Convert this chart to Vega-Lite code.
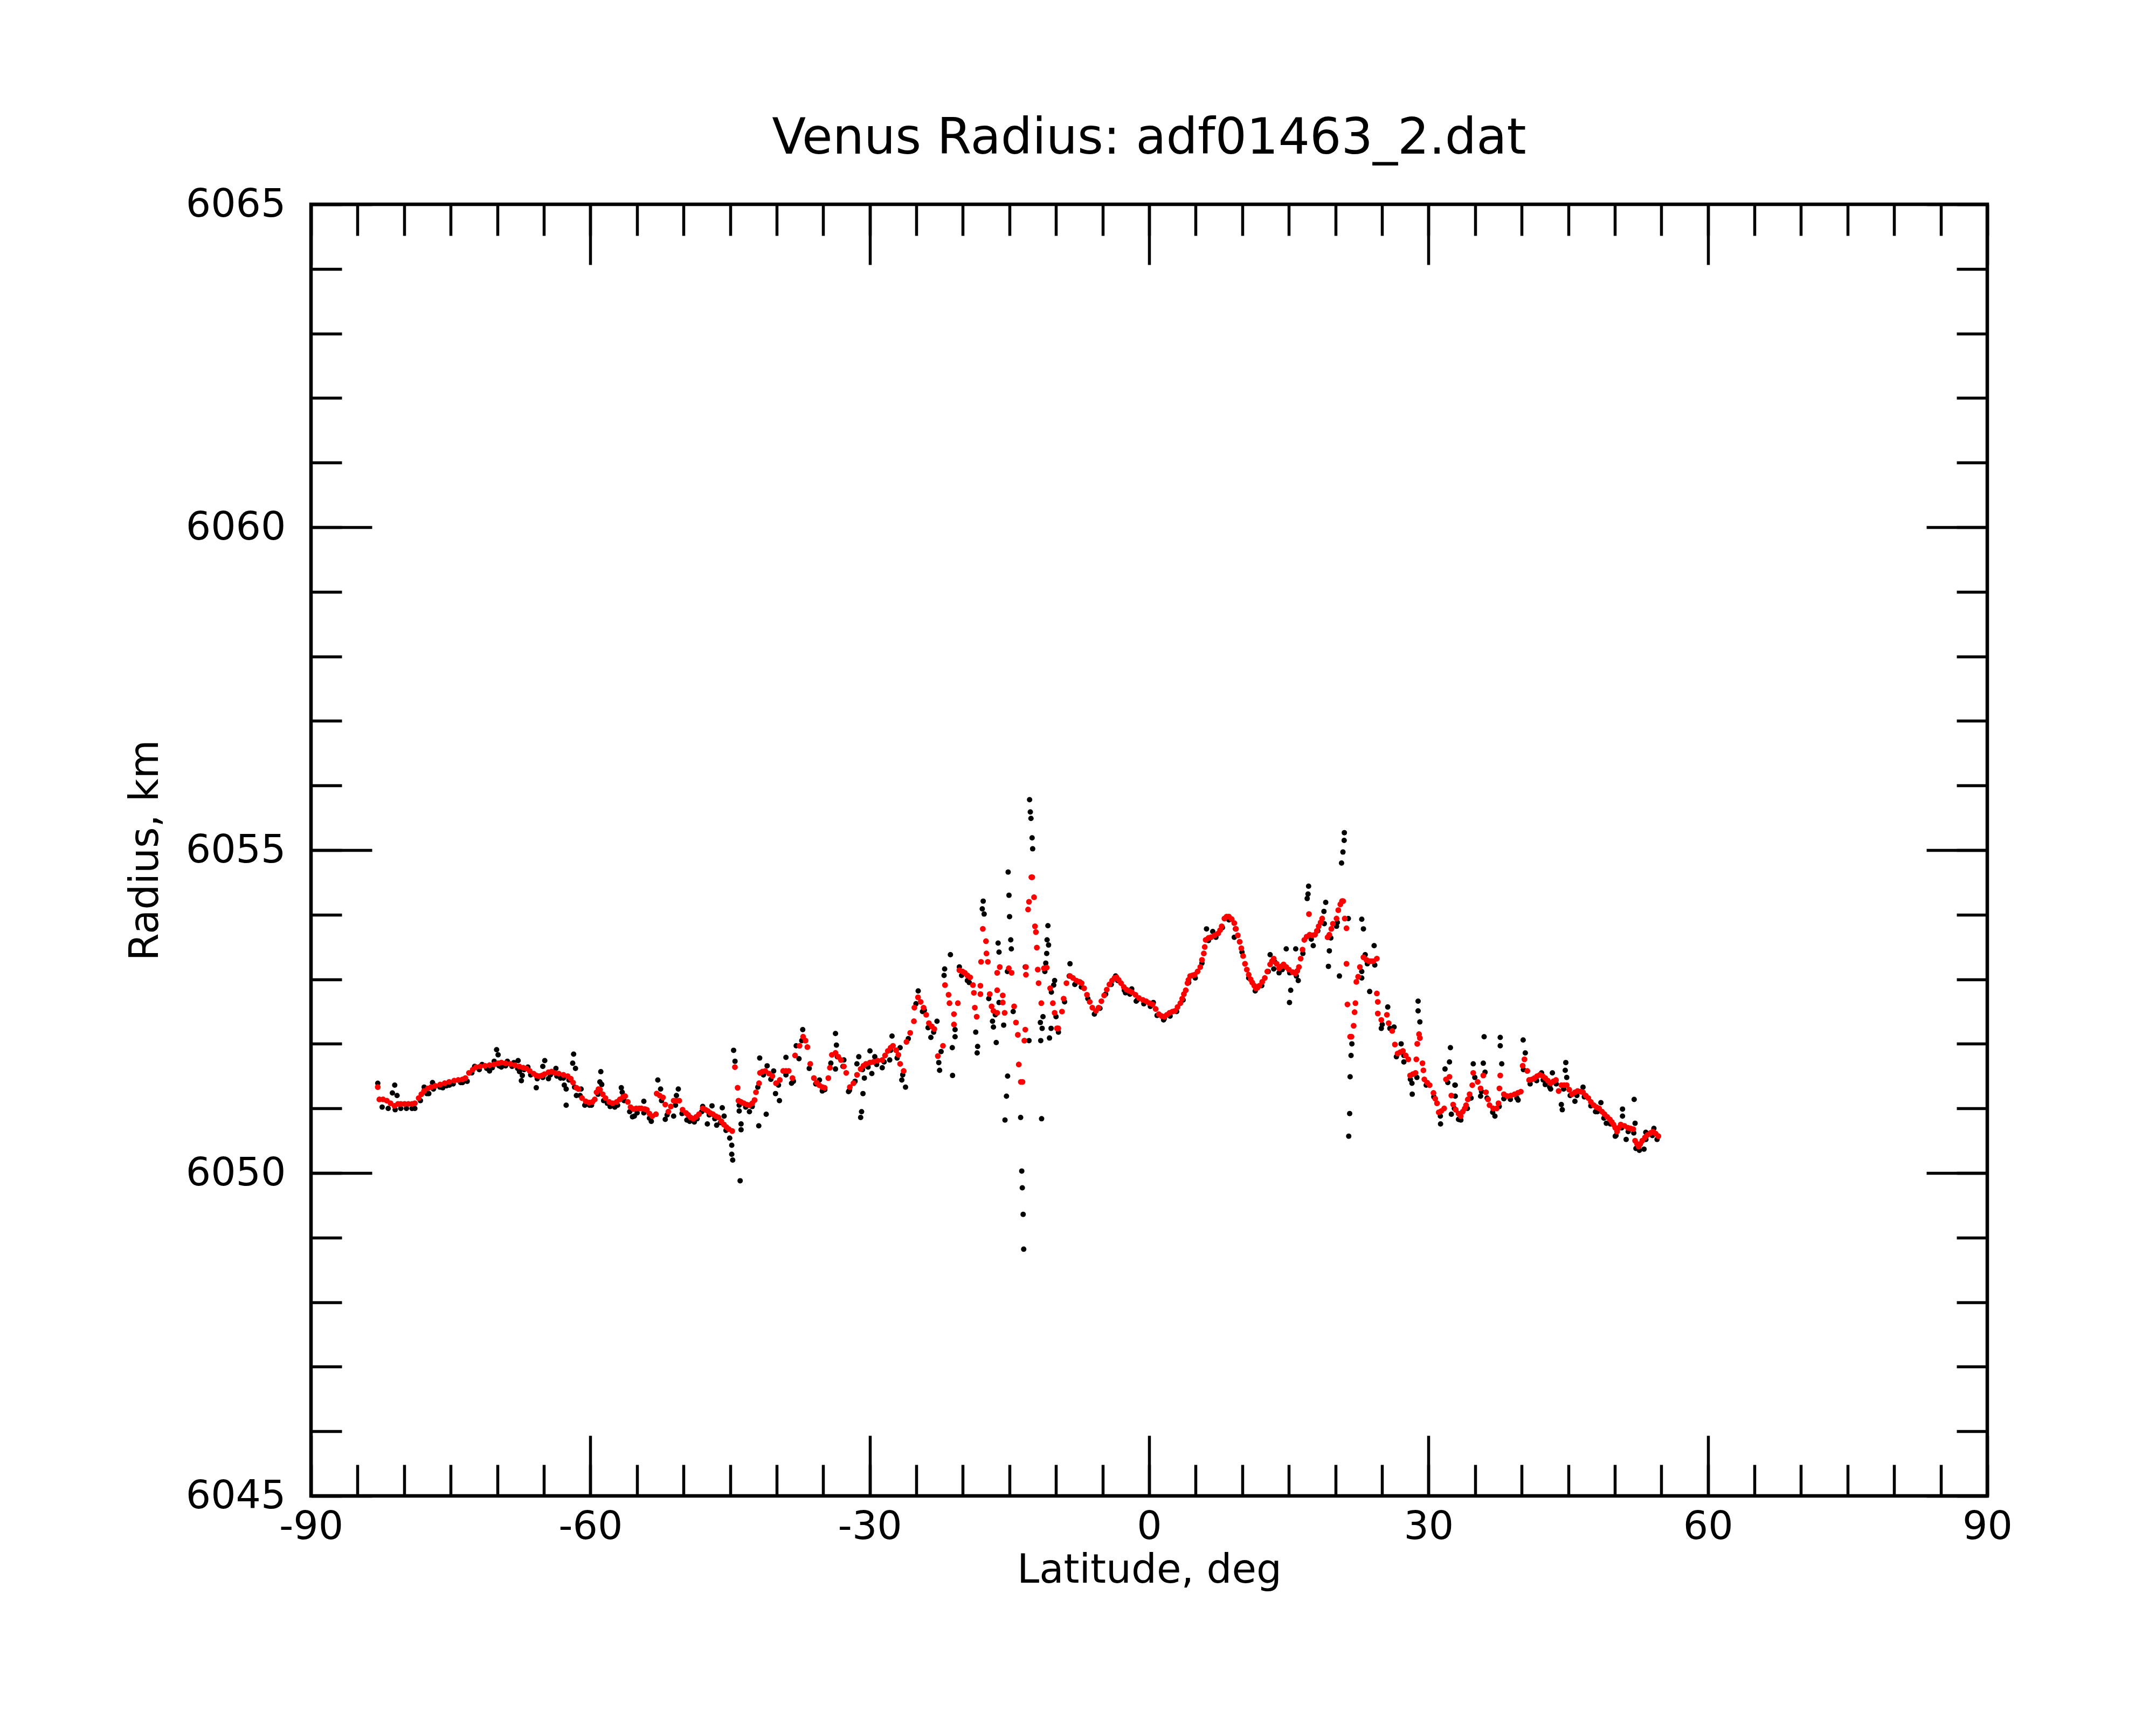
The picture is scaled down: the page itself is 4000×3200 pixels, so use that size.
{
  "$schema": "https://vega.github.io/schema/vega-lite/v6.json",
  "width": 3110,
  "height": 2396,
  "autosize": "none",
  "padding": {"left": 577, "top": 379, "right": 313, "bottom": 425},
  "background": "white",
  "config": {
    "font": "DejaVu Sans",
    "view": {"stroke": "black", "strokeWidth": 6.5},
    "axis": {
      "domain": false, "grid": false, "tickColor": "black", "tickWidth": 5.5,
      "labelColor": "black", "titleColor": "black", "labelFont": "DejaVu Sans", "titleFont": "DejaVu Sans",
      "labelFontSize": 73, "titleFontSize": 74, "titleFontWeight": "normal", "labelLimit": 500,
      "labelOverlap": false, "labelFlush": false, "labelBound": false
    }
  },
  "title": {
    "text": "Venus Radius: adf01463_2.dat", "fontSize": 92, "font": "DejaVu Sans", "fontWeight": "normal",
    "color": "black", "anchor": "middle", "frame": "group", "baseline": "alphabetic", "offset": 94, "dy": 128
  },
  "datasets": {
    "black": [
      {"lat":-82.36,"r":6051.02},{"lat":-81.71,"r":6051.0},{"lat":-80.96,"r":6050.98},{"lat":-80.36,"r":6051.0},{"lat":-79.75,"r":6051.0},{"lat":-79.15,"r":6051.0},{"lat":-78.85,"r":6051.0},{"lat":-78.25,"r":6051.12},{"lat":-77.55,"r":6051.23},{"lat":-76.85,"r":6051.3},{"lat":-76.15,"r":6051.33},{"lat":-75.45,"r":6051.35},{"lat":-74.73,"r":6051.38},{"lat":-73.93,"r":6051.4},{"lat":-73.23,"r":6051.42},{"lat":-72.73,"r":6051.55},{"lat":-71.93,"r":6051.6},{"lat":-71.13,"r":6051.62},{"lat":-70.53,"r":6051.63},{"lat":-69.81,"r":6051.66},{"lat":-69.11,"r":6051.66},{"lat":-68.41,"r":6051.65},{"lat":-67.81,"r":6051.62},{"lat":-67.11,"r":6051.6},{"lat":-66.41,"r":6051.52},{"lat":-65.71,"r":6051.46},{"lat":-65.11,"r":6051.48},{"lat":-64.3,"r":6051.52},{"lat":-63.6,"r":6051.5},{"lat":-62.9,"r":6051.47},{"lat":-62.3,"r":6051.44},{"lat":-61.7,"r":6051.33},{"lat":-61.1,"r":6051.2},{"lat":-60.6,"r":6051.05},{"lat":-59.88,"r":6051.05},{"lat":-59.18,"r":6051.22},{"lat":-58.58,"r":6051.12},{"lat":-57.88,"r":6051.03},{"lat":-57.08,"r":6051.05},{"lat":-56.38,"r":6051.12},{"lat":-55.78,"r":6050.95},{"lat":-54.98,"r":6050.93},{"lat":-54.26,"r":6050.93},{"lat":-53.66,"r":6050.85},{"lat":-52.36,"r":6051.12},{"lat":-51.76,"r":6050.9},{"lat":-50.86,"r":6051.05},{"lat":-50.16,"r":6050.92},{"lat":-49.34,"r":6050.8},{"lat":-48.54,"r":6050.84},{"lat":-48.04,"r":6050.95},{"lat":-47.24,"r":6050.9},{"lat":-46.64,"r":6050.84},{"lat":-46.04,"r":6050.78},{"lat":-45.44,"r":6050.66},{"lat":-44.02,"r":6051.05},{"lat":-43.32,"r":6051.02},{"lat":-42.62,"r":6051.03},{"lat":-42.02,"r":6051.33},{"lat":-41.42,"r":6051.52},{"lat":-40.62,"r":6051.45},{"lat":-39.8,"r":6051.36},{"lat":-39.0,"r":6051.52},{"lat":-38.2,"r":6051.42},{"lat":-37.3,"r":6052.05},{"lat":-36.5,"r":6051.62},{"lat":-35.8,"r":6051.38},{"lat":-35.1,"r":6051.27},{"lat":-34.18,"r":6051.7},{"lat":-33.48,"r":6051.8},{"lat":-32.88,"r":6051.65},{"lat":-32.18,"r":6051.28},{"lat":-31.58,"r":6051.42},{"lat":-30.78,"r":6051.6},{"lat":-30.18,"r":6051.64},{"lat":-29.26,"r":6051.68},{"lat":-28.46,"r":6051.72},{"lat":-27.76,"r":6051.9},{"lat":-27.06,"r":6051.78},{"lat":-26.46,"r":6051.52},{"lat":-25.86,"r":6052.08},{"lat":-25.04,"r":6052.62},{"lat":-24.34,"r":6052.5},{"lat":-23.74,"r":6052.25},{"lat":-23.14,"r":6052.18},{"lat":-22.34,"r":6051.88},{"lat":-20.14,"r":6053.06},{"lat":-19.32,"r":6052.95},{"lat":-17.22,"r":6052.7},{"lat":-16.52,"r":6052.45},{"lat":-15.22,"r":6053.12},{"lat":-14.6,"r":6052.5},{"lat":-11.2,"r":6053.12},{"lat":-10.5,"r":6052.8},{"lat":-10.0,"r":6052.42},{"lat":-9.08,"r":6052.65},{"lat":-8.58,"r":6053.05},{"lat":-7.98,"r":6052.92},{"lat":-7.28,"r":6052.88},{"lat":-6.58,"r":6052.7},{"lat":-5.88,"r":6052.46},{"lat":-5.28,"r":6052.55},{"lat":-4.67,"r":6052.77},{"lat":-4.07,"r":6052.92},{"lat":-3.37,"r":6052.98},{"lat":-2.67,"r":6052.83},{"lat":-2.07,"r":6052.77},{"lat":-1.27,"r":6052.68},{"lat":-0.57,"r":6052.62},{"lat":0.13,"r":6052.58},{"lat":0.85,"r":6052.44},{"lat":1.55,"r":6052.37},{"lat":2.25,"r":6052.43},{"lat":2.95,"r":6052.5},{"lat":3.65,"r":6052.68},{"lat":4.25,"r":6052.95},{"lat":4.95,"r":6053.02},{"lat":5.67,"r":6053.25},{"lat":6.37,"r":6053.6},{"lat":7.17,"r":6053.65},{"lat":7.87,"r":6053.8},{"lat":8.57,"r":6053.92},{"lat":9.27,"r":6053.78},{"lat":9.97,"r":6053.42},{"lat":10.69,"r":6053.02},{"lat":11.39,"r":6052.82},{"lat":12.09,"r":6052.9},{"lat":12.79,"r":6053.12},{"lat":13.49,"r":6053.27},{"lat":14.29,"r":6053.15},{"lat":15.09,"r":6053.1},{"lat":15.81,"r":6053.05},{"lat":16.51,"r":6053.4},{"lat":17.41,"r":6053.62},{"lat":18.11,"r":6053.75},{"lat":18.81,"r":6053.86},{"lat":19.51,"r":6053.64},{"lat":20.21,"r":6053.88},{"lat":22.83,"r":6053.12},{"lat":23.43,"r":6053.24},{"lat":24.23,"r":6053.22},{"lat":25.03,"r":6052.3},{"lat":25.85,"r":6052.24},{"lat":26.55,"r":6051.8},{"lat":27.35,"r":6051.82},{"lat":28.05,"r":6051.45},{"lat":28.75,"r":6051.48},{"lat":29.75,"r":6051.36},{"lat":30.57,"r":6051.18},{"lat":31.27,"r":6050.88},{"lat":32.07,"r":6051.4},{"lat":32.77,"r":6051.0},{"lat":33.47,"r":6050.82},{"lat":34.17,"r":6051.0},{"lat":34.57,"r":6051.16},{"lat":34.97,"r":6051.48},{"lat":35.69,"r":6051.26},{"lat":36.29,"r":6051.16},{"lat":36.89,"r":6050.94},{"lat":37.59,"r":6051.03},{"lat":38.09,"r":6051.15},{"lat":38.79,"r":6051.14},{"lat":39.49,"r":6051.16},{"lat":40.19,"r":6051.6},{"lat":40.91,"r":6051.38},{"lat":41.61,"r":6051.43},{"lat":42.31,"r":6051.44},{"lat":43.01,"r":6051.33},{"lat":43.71,"r":6051.38},{"lat":44.51,"r":6051.3},{"lat":45.21,"r":6051.2},{"lat":45.93,"r":6051.2},{"lat":46.73,"r":6051.18},{"lat":47.43,"r":6051.04},{"lat":48.13,"r":6050.95},{"lat":48.83,"r":6050.85},{"lat":49.53,"r":6050.76},{"lat":50.13,"r":6050.58},{"lat":50.74,"r":6050.7},{"lat":51.44,"r":6050.64},{"lat":52.04,"r":6050.62},{"lat":52.64,"r":6050.35},{"lat":53.34,"r":6050.52},{"lat":54.04,"r":6050.58},{"lat":54.54,"r":6050.52},
      {"lat":-82.83,"r":6051.39},{"lat":-81.01,"r":6051.36},{"lat":-81.26,"r":6051.24},{"lat":-80.76,"r":6051.2},{"lat":-77.85,"r":6051.33},{"lat":-77.35,"r":6051.23},{"lat":-76.95,"r":6051.4},{"lat":-75.85,"r":6051.32},{"lat":-75.13,"r":6051.36},{"lat":-73.73,"r":6051.4},{"lat":-72.43,"r":6051.65},{"lat":-71.63,"r":6051.68},{"lat":-70.83,"r":6051.58},{"lat":-70.33,"r":6051.73},{"lat":-70.07,"r":6051.91},{"lat":-69.91,"r":6051.83},{"lat":-69.56,"r":6051.64},{"lat":-68.91,"r":6051.73},{"lat":-68.21,"r":6051.71},{"lat":-67.76,"r":6051.74},{"lat":-67.61,"r":6051.57},{"lat":-67.31,"r":6051.51},{"lat":-67.41,"r":6051.43},{"lat":-66.71,"r":6051.64},{"lat":-65.81,"r":6051.32},{"lat":-64.9,"r":6051.74},{"lat":-65.11,"r":6051.65},{"lat":-64.5,"r":6051.46},{"lat":-63.7,"r":6051.62},{"lat":-63.2,"r":6051.47},{"lat":-62.8,"r":6051.36},{"lat":-62.6,"r":6051.05},{"lat":-62.6,"r":6051.3},{"lat":-61.8,"r":6051.84},{"lat":-61.9,"r":6051.7},{"lat":-61.6,"r":6051.62},{"lat":-61.0,"r":6051.3},{"lat":-61.5,"r":6051.2},{"lat":-60.1,"r":6051.05},{"lat":-58.88,"r":6051.57},{"lat":-58.98,"r":6051.41},{"lat":-58.78,"r":6051.37},{"lat":-58.18,"r":6051.08},{"lat":-57.38,"r":6051.02},{"lat":-56.68,"r":6051.32},{"lat":-56.58,"r":6051.25},{"lat":-55.48,"r":6050.87},
      {"lat":-55.28,"r":6050.88},{"lat":-54.26,"r":6051.11},{"lat":-53.46,"r":6050.8},{"lat":-52.76,"r":6051.44},{"lat":-52.46,"r":6051.3},{"lat":-51.96,"r":6050.83},{"lat":-51.06,"r":6050.88},{"lat":-50.56,"r":6051.3},{"lat":-50.76,"r":6051.2},{"lat":-49.64,"r":6050.82},{"lat":-48.84,"r":6050.79},{"lat":-47.94,"r":6051.03},{"lat":-47.44,"r":6050.76},{"lat":-46.94,"r":6051.04},{"lat":-46.44,"r":6050.74},{"lat":-45.84,"r":6051.01},{"lat":-45.64,"r":6050.88},{"lat":-45.04,"r":6050.54},{"lat":-44.82,"r":6050.43},{"lat":-44.82,"r":6050.29},{"lat":-44.72,"r":6050.2},{"lat":-43.92,"r":6049.88},{"lat":-44.62,"r":6051.9},{"lat":-44.47,"r":6051.73},{"lat":-44.02,"r":6050.96},{"lat":-43.82,"r":6050.76},{"lat":-43.82,"r":6050.67},{"lat":-42.92,"r":6050.95},{"lat":-41.92,"r":6050.73},{"lat":-41.12,"r":6050.91},{"lat":-41.82,"r":6051.78},{"lat":-41.02,"r":6051.66},{"lat":-40.32,"r":6051.58},{"lat":-40.12,"r":6051.23},{"lat":-39.7,"r":6051.12},{"lat":-39.0,"r":6051.79},{"lat":-38.4,"r":6051.39},{"lat":-37.9,"r":6051.97},{"lat":-37.6,"r":6051.77},{"lat":-37.2,"r":6052.22},{"lat":-35.4,"r":6051.44},{"lat":-34.83,"r":6051.29},{"lat":-33.68,"r":6052.16},{"lat":-33.58,"r":6051.98},{"lat":-32.78,"r":6051.75},{"lat":-33.68,"r":6051.61},{"lat":-32.28,"r":6051.26},{"lat":-31.18,"r":6051.8},{"lat":-31.38,"r":6051.69},{"lat":-30.58,"r":6051.47},{"lat":-30.73,"r":6051.23},{"lat":-30.88,"r":6050.95},{"lat":-30.98,"r":6050.86},{"lat":-29.98,"r":6051.89},{"lat":-29.46,"r":6051.8},{"lat":-29.78,"r":6051.54},{"lat":-28.66,"r":6051.63},{"lat":-27.86,"r":6051.75},{"lat":-27.61,"r":6052.12},{"lat":-26.74,"r":6051.94},{"lat":-26.56,"r":6051.44},{"lat":-26.16,"r":6051.33},
      {"lat":-24.8,"r":6052.82},{"lat":-24.14,"r":6052.52},{"lat":-23.44,"r":6052.1},{"lat":-22.78,"r":6052.35},{"lat":-22.59,"r":6051.71},{"lat":-22.5,"r":6051.59},{"lat":-21.34,"r":6053.38},{"lat":-21.96,"r":6053.16},{"lat":-22.02,"r":6053.06},{"lat":-21.14,"r":6051.94},{"lat":-21.11,"r":6051.51},{"lat":-20.84,"r":6052.22},{"lat":-20.84,"r":6052.11},{"lat":-20.38,"r":6053.19},{"lat":-19.52,"r":6052.98},{"lat":-18.62,"r":6052.18},{"lat":-18.42,"r":6051.96},{"lat":-18.47,"r":6051.86},{"lat":-17.82,"r":6054.21},{"lat":-17.92,"r":6054.09},{"lat":-17.72,"r":6054.01},{"lat":-16.82,"r":6052.35},{"lat":-16.72,"r":6052.26},{"lat":-16.42,"r":6052.02},{"lat":-16.22,"r":6053.56},{"lat":-16.12,"r":6053.42},{"lat":-16.12,"r":6052.64},{"lat":-15.62,"r":6052.29},{"lat":-15.14,"r":6054.66},{"lat":-15.05,"r":6054.3},{"lat":-14.99,"r":6053.97},{"lat":-14.86,"r":6053.61},{"lat":-14.8,"r":6053.47},{"lat":-15.2,"r":6051.5},{"lat":-15.32,"r":6051.19},{"lat":-15.48,"r":6050.82},{"lat":-13.8,"r":6050.86},{"lat":-13.68,"r":6050.03},{"lat":-13.62,"r":6049.77},{"lat":-13.53,"r":6049.36},{"lat":-13.47,"r":6048.82},{"lat":-12.84,"r":6055.78},{"lat":-12.76,"r":6055.59},{"lat":-12.69,"r":6055.49},{"lat":-12.57,"r":6055.19},{"lat":-12.51,"r":6055.02},{"lat":-12.9,"r":6052.05},{"lat":-13.3,"r":6053.19},{"lat":-11.55,"r":6050.84},{"lat":-11.68,"r":6052.33},{"lat":-11.49,"r":6052.24},{"lat":-11.4,"r":6052.42},{"lat":-11.64,"r":6052.05},{"lat":-10.87,"r":6053.83},{"lat":-10.96,"r":6053.61},{"lat":-10.8,"r":6053.53},{"lat":-11.0,"r":6053.4},{"lat":-11.1,"r":6053.25},{"lat":-10.7,"r":6052.09},{"lat":-10.53,"r":6052.24},{"lat":-10.15,"r":6052.98},{"lat":-10.25,"r":6052.91},{"lat":-9.74,"r":6052.18},{"lat":-8.5,"r":6053.24},{"lat":-7.44,"r":6052.96},{"lat":-3.6,"r":6053.05},{"lat":-2.54,"r":6052.79},{"lat":-1.87,"r":6052.85},{"lat":-1.39,"r":6052.66},{"lat":0.45,"r":6052.64},{"lat":1.62,"r":6052.39},
      {"lat":6.16,"r":6053.78},{"lat":6.83,"r":6053.74},{"lat":9.14,"r":6053.65},{"lat":12.99,"r":6053.38},{"lat":13.38,"r":6053.16},{"lat":13.95,"r":6053.1},{"lat":14.72,"r":6053.47},{"lat":15.74,"r":6053.47},{"lat":15.2,"r":6052.83},{"lat":15.07,"r":6052.64},{"lat":16.01,"r":6052.98},{"lat":17.12,"r":6054.44},{"lat":17.06,"r":6054.32},{"lat":16.97,"r":6054.25},{"lat":17.62,"r":6053.52},{"lat":18.96,"r":6054.19},{"lat":18.77,"r":6054.05},{"lat":19.35,"r":6053.44},{"lat":19.25,"r":6053.2},{"lat":20.43,"r":6053.05},{"lat":20.12,"r":6053.82},{"lat":20.96,"r":6055.27},{"lat":20.94,"r":6055.15},{"lat":20.81,"r":6054.97},{"lat":20.66,"r":6054.8},{"lat":21.39,"r":6053.94},{"lat":21.77,"r":6052.0},{"lat":21.68,"r":6051.82},{"lat":21.58,"r":6051.49},{"lat":21.53,"r":6050.92},{"lat":21.43,"r":6050.57},{"lat":22.83,"r":6053.93},{"lat":23.01,"r":6053.78},{"lat":24.16,"r":6053.52},{"lat":23.68,"r":6052.81},{"lat":23.2,"r":6053.38},{"lat":22.83,"r":6053.02},{"lat":24.93,"r":6052.24},{"lat":25.62,"r":6052.57},{"lat":26.3,"r":6052.26},{"lat":27.06,"r":6052.0},{"lat":27.35,"r":6051.72},{"lat":28.22,"r":6051.39},{"lat":28.25,"r":6051.22},{"lat":28.88,"r":6052.66},{"lat":28.88,"r":6052.51},{"lat":29.07,"r":6052.34},{"lat":31.29,"r":6050.76},{"lat":32.35,"r":6051.94},{"lat":32.25,"r":6051.72},{"lat":31.77,"r":6051.61},{"lat":32.83,"r":6051.36},{"lat":32.45,"r":6050.91},{"lat":33.22,"r":6050.83},
      {"lat":32.87,"r":6051.36},{"lat":32.87,"r":6051.19},{"lat":33.26,"r":6050.83},{"lat":34.8,"r":6051.69},{"lat":35.97,"r":6052.11},{"lat":35.88,"r":6051.7},{"lat":36.07,"r":6051.56},{"lat":35.59,"r":6051.19},{"lat":37.13,"r":6050.88},{"lat":37.7,"r":6052.1},{"lat":37.7,"r":6051.97},{"lat":37.86,"r":6051.69},{"lat":39.62,"r":6051.13},{"lat":40.16,"r":6052.06},{"lat":40.39,"r":6051.86},{"lat":42.14,"r":6051.55},{"lat":42.53,"r":6051.37},{"lat":43.3,"r":6051.55},{"lat":43.11,"r":6051.3},{"lat":44.74,"r":6051.71},{"lat":44.68,"r":6051.59},{"lat":44.84,"r":6051.48},{"lat":44.26,"r":6051.06},{"lat":44.36,"r":6050.98},{"lat":45.72,"r":6051.11},{"lat":46.59,"r":6051.33},{"lat":48.51,"r":6051.09},{"lat":47.93,"r":6050.95},{"lat":49.09,"r":6050.77},{"lat":50.05,"r":6050.57},{"lat":50.83,"r":6050.99},{"lat":50.83,"r":6050.88},{"lat":52.08,"r":6051.14},{"lat":52.18,"r":6050.77},{"lat":51.22,"r":6050.52},{"lat":53.14,"r":6050.37},{"lat":52.27,"r":6050.38},{"lat":54.2,"r":6050.69},{"lat":53.33,"r":6050.63}
    ],
    "red": [
      {"lat":-82.83,"r":6051.33},{"lat":-82.66,"r":6051.14},{"lat":-82.26,"r":6051.14},{"lat":-81.86,"r":6051.12},{"lat":-81.46,"r":6051.08},{"lat":-81.04,"r":6051.04},{"lat":-80.66,"r":6051.07},{"lat":-80.36,"r":6051.07},{"lat":-79.95,"r":6051.07},{"lat":-79.55,"r":6051.07},{"lat":-79.15,"r":6051.07},{"lat":-78.85,"r":6051.08},{"lat":-78.44,"r":6051.16},{"lat":-78.15,"r":6051.22},{"lat":-77.86,"r":6051.27},{"lat":-77.45,"r":6051.31},{"lat":-77.09,"r":6051.33},{"lat":-76.65,"r":6051.35},{"lat":-76.13,"r":6051.37},{"lat":-75.65,"r":6051.39},{"lat":-75.17,"r":6051.41},{"lat":-74.63,"r":6051.43},{"lat":-74.19,"r":6051.44},{"lat":-73.73,"r":6051.45},{"lat":-73.42,"r":6051.47},{"lat":-73.04,"r":6051.55},{"lat":-72.63,"r":6051.6},{"lat":-72.27,"r":6051.64},{"lat":-71.83,"r":6051.65},{"lat":-71.31,"r":6051.66},{"lat":-70.83,"r":6051.67},{"lat":-70.35,"r":6051.68},{"lat":-69.91,"r":6051.7},{"lat":-69.56,"r":6051.71},{"lat":-69.11,"r":6051.7},{"lat":-68.6,"r":6051.69},{"lat":-68.11,"r":6051.67},{"lat":-67.64,"r":6051.65},{"lat":-67.21,"r":6051.63},{"lat":-66.87,"r":6051.62},{"lat":-66.51,"r":6051.58},{"lat":-66.1,"r":6051.54},{"lat":-65.81,"r":6051.51},{"lat":-65.52,"r":6051.5},{"lat":-65.21,"r":6051.51},{"lat":-64.94,"r":6051.53},{"lat":-64.5,"r":6051.56},{"lat":-64.17,"r":6051.57},{"lat":-63.8,"r":6051.55},{"lat":-63.4,"r":6051.54},{"lat":-62.9,"r":6051.52},{"lat":-62.44,"r":6051.5},{"lat":-62.1,"r":6051.46},{"lat":-61.86,"r":6051.4},{"lat":-61.5,"r":6051.32},{"lat":-61.28,"r":6051.3},{"lat":-60.9,"r":6051.16},{"lat":-60.5,"r":6051.11},{"lat":-60.13,"r":6051.09},{"lat":-59.78,"r":6051.1},{"lat":-59.53,"r":6051.14},{"lat":-59.34,"r":6051.25},{"lat":-59.13,"r":6051.3},{"lat":-58.96,"r":6051.29},{"lat":-58.68,"r":6051.22},{"lat":-58.38,"r":6051.16},{"lat":-57.98,"r":6051.1},{"lat":-57.61,"r":6051.08},{"lat":-57.18,"r":6051.1},{"lat":-56.84,"r":6051.14},{"lat":-56.48,"r":6051.18},{"lat":-56.27,"r":6051.19},{"lat":-55.98,"r":6051.1},{"lat":-55.69,"r":6051.02},{"lat":-55.38,"r":6050.99},{"lat":-55.08,"r":6051.0},{"lat":-54.76,"r":6051.0},{"lat":-54.52,"r":6051.0},{"lat":-54.16,"r":6050.99},{"lat":-53.94,"r":6050.98},{"lat":-53.66,"r":6050.92},{"lat":-53.36,"r":6050.88},{"lat":-52.96,"r":6050.91},{"lat":-52.88,"r":6051.23},{"lat":-52.56,"r":6051.2},{"lat":-52.21,"r":6051.17},{"lat":-51.96,"r":6051.06},{"lat":-51.63,"r":6050.95},{"lat":-51.36,"r":6051.03},{"lat":-51.06,"r":6051.12},{"lat":-50.76,"r":6051.12},{"lat":-50.46,"r":6051.12},{"lat":-50.1,"r":6050.98},{"lat":-49.74,"r":6050.93},{"lat":-49.5,"r":6050.9},{"lat":-49.24,"r":6050.86},{"lat":-48.94,"r":6050.84},{"lat":-48.64,"r":6050.87},{"lat":-48.34,"r":6050.91},{"lat":-47.94,"r":6051.0},{"lat":-47.64,"r":6050.98},{"lat":-47.39,"r":6050.96},{"lat":-47.14,"r":6050.93},{"lat":-46.84,"r":6050.91},{"lat":-46.54,"r":6050.88},{"lat":-46.24,"r":6050.86},{"lat":-45.94,"r":6050.8},{"lat":-45.66,"r":6050.75},{"lat":-45.39,"r":6050.71},{"lat":-45.14,"r":6050.68},{"lat":-44.77,"r":6050.65},{"lat":-44.48,"r":6051.64},{"lat":-44.19,"r":6051.32},{"lat":-44.1,"r":6051.12},{"lat":-43.82,"r":6051.1},{"lat":-43.52,"r":6051.08},{"lat":-43.22,"r":6051.06},{"lat":-42.94,"r":6051.05},{"lat":-42.62,"r":6051.08},{"lat":-42.37,"r":6051.13},{"lat":-42.22,"r":6051.25},{"lat":-41.89,"r":6051.39},{"lat":-41.79,"r":6051.55},{"lat":-41.52,"r":6051.57},{"lat":-41.22,"r":6051.58},{"lat":-40.82,"r":6051.54},{"lat":-40.45,"r":6051.5},{"lat":-40.07,"r":6051.39},{"lat":-39.66,"r":6051.44},{"lat":-39.3,"r":6051.58},{"lat":-39.0,"r":6051.58},{"lat":-38.7,"r":6051.58},{"lat":-38.3,"r":6051.47},{"lat":-38.02,"r":6051.82},{"lat":-37.54,"r":6051.97},{"lat":-37.16,"r":6052.11},{"lat":-36.9,"r":6052.05},{"lat":-36.7,"r":6051.95},{"lat":-36.39,"r":6051.69},{"lat":-36.0,"r":6051.47},{"lat":-35.7,"r":6051.4},{"lat":-35.43,"r":6051.36},{"lat":-35.1,"r":6051.33},{"lat":-34.85,"r":6051.32},{"lat":-34.45,"r":6051.47},{"lat":-34.28,"r":6051.63},{"lat":-34.07,"r":6051.83},{"lat":-33.68,"r":6051.86},{"lat":-33.38,"r":6051.8},{"lat":-33.1,"r":6051.75},{"lat":-32.78,"r":6051.65},{"lat":-32.53,"r":6051.55},{"lat":-32.14,"r":6051.33},{"lat":-31.75,"r":6051.39},{"lat":-31.37,"r":6051.52},{"lat":-30.98,"r":6051.61},{"lat":-30.68,"r":6051.66},{"lat":-30.41,"r":6051.69},{"lat":-29.98,"r":6051.71},{"lat":-29.62,"r":6051.72},{"lat":-29.16,"r":6051.74},{"lat":-28.66,"r":6051.75},{"lat":-28.36,"r":6051.82},{"lat":-28.06,"r":6051.89},{"lat":-27.76,"r":6051.94},{"lat":-27.51,"r":6051.97},{"lat":-27.16,"r":6051.9},{"lat":-26.93,"r":6051.83},{"lat":-26.74,"r":6051.69},{"lat":-26.36,"r":6051.58},{"lat":-26.06,"r":6052.03},{"lat":-25.66,"r":6052.17},{"lat":-25.26,"r":6052.35},{"lat":-25.21,"r":6052.56},{"lat":-24.82,"r":6052.72},{"lat":-24.54,"r":6052.65},{"lat":-24.22,"r":6052.56},{"lat":-23.94,"r":6052.45},{"lat":-23.65,"r":6052.32},{"lat":-23.34,"r":6052.27},{"lat":-23.07,"r":6052.23},{"lat":-22.69,"r":6051.81},{"lat":-22.14,"r":6051.97},{"lat":-21.92,"r":6052.91},{"lat":-21.54,"r":6052.76},{"lat":-21.44,"r":6052.63},{"lat":-20.96,"r":6052.46},{"lat":-20.96,"r":6052.3},{"lat":-20.54,"r":6052.63},{"lat":-20.38,"r":6053.14},{"lat":-20.04,"r":6053.12},{"lat":-19.8,"r":6053.1},{"lat":-19.52,"r":6053.06},{"lat":-19.22,"r":6053.03},{"lat":-18.92,"r":6052.91},{"lat":-18.82,"r":6052.79},{"lat":-18.72,"r":6052.56},{"lat":-18.52,"r":6052.42},{"lat":-18.12,"r":6052.9},{"lat":-18.12,"r":6052.77},{"lat":-18.05,"r":6053.27},{"lat":-17.86,"r":6053.78},{"lat":-17.52,"r":6053.59},{"lat":-17.47,"r":6053.4},{"lat":-17.32,"r":6053.27},{"lat":-17.12,"r":6052.77},{"lat":-16.92,"r":6052.58},{"lat":-16.72,"r":6052.51},{"lat":-16.32,"r":6052.48},{"lat":-16.32,"r":6052.83},{"lat":-16.04,"r":6053.19},{"lat":-16.32,"r":6053.1},{"lat":-15.72,"r":6052.75},{"lat":-15.72,"r":6052.64},{"lat":-15.52,"r":6052.48},{"lat":-15.07,"r":6053.17},{"lat":-14.77,"r":6053.1},{"lat":-14.5,"r":6052.58},{"lat":-14.3,"r":6052.33},{"lat":-14.1,"r":6052.14},{"lat":-14.0,"r":6051.68},{"lat":-13.78,"r":6051.41},{"lat":-13.6,"r":6051.41},{"lat":-13.4,"r":6052.05},{"lat":-13.3,"r":6052.22},{"lat":-13.23,"r":6053.19},{"lat":-13.23,"r":6053.07},{"lat":-13.0,"r":6054.08},{"lat":-12.9,"r":6054.2},{"lat":-12.65,"r":6054.58},{"lat":-12.55,"r":6054.58},{"lat":-12.36,"r":6054.27},{"lat":-12.26,"r":6053.82},{"lat":-12.16,"r":6053.73},{"lat":-12.06,"r":6053.49},{"lat":-11.96,"r":6053.15},{"lat":-11.87,"r":6052.94},{"lat":-11.58,"r":6052.63},{"lat":-11.3,"r":6053.17},{"lat":-11.0,"r":6053.18},{"lat":-10.63,"r":6052.86},{"lat":-10.34,"r":6052.63},{"lat":-10.15,"r":6052.48},{"lat":-9.9,"r":6052.24},{"lat":-9.76,"r":6052.24},{"lat":-9.36,"r":6052.5},{"lat":-9.18,"r":6052.7},{"lat":-8.88,"r":6052.94},{"lat":-8.5,"r":6053.05},{"lat":-8.18,"r":6053.02},{"lat":-7.82,"r":6052.98},{"lat":-7.53,"r":6052.96},{"lat":-7.25,"r":6052.94},{"lat":-6.98,"r":6052.86},{"lat":-6.68,"r":6052.76},{"lat":-6.38,"r":6052.65},{"lat":-6.1,"r":6052.56},{"lat":-5.71,"r":6052.51},{"lat":-5.43,"r":6052.56},{"lat":-5.13,"r":6052.66},{"lat":-4.83,"r":6052.75},{"lat":-4.55,"r":6052.84},{"lat":-4.27,"r":6052.92},{"lat":-3.98,"r":6052.98},{"lat":-3.72,"r":6053.02},{"lat":-3.5,"r":6053.03},{"lat":-3.27,"r":6052.99},{"lat":-3.02,"r":6052.94},{"lat":-2.72,"r":6052.88},{"lat":-2.44,"r":6052.84},{"lat":-2.15,"r":6052.82},{"lat":-1.86,"r":6052.8},{"lat":-1.47,"r":6052.76},{"lat":-1.09,"r":6052.71},{"lat":-0.67,"r":6052.68},{"lat":-0.32,"r":6052.66},{"lat":0.03,"r":6052.63},{"lat":0.37,"r":6052.61},{"lat":0.7,"r":6052.54},{"lat":1.04,"r":6052.46},{"lat":1.35,"r":6052.43},{"lat":1.62,"r":6052.42},{"lat":1.9,"r":6052.45},{"lat":2.19,"r":6052.48},{"lat":2.5,"r":6052.5},{"lat":2.77,"r":6052.51},{"lat":3.05,"r":6052.57},{"lat":3.35,"r":6052.63},{"lat":3.55,"r":6052.7},{"lat":3.73,"r":6052.77},{"lat":3.93,"r":6052.83},{"lat":4.12,"r":6052.94},{"lat":4.22,"r":6052.99},{"lat":4.4,"r":6053.05},{"lat":4.65,"r":6053.06},{"lat":4.89,"r":6053.07},{"lat":5.2,"r":6053.12},{"lat":5.49,"r":6053.19},{"lat":5.67,"r":6053.3},{"lat":5.87,"r":6053.4},{"lat":5.97,"r":6053.5},{"lat":6.07,"r":6053.61},{"lat":6.37,"r":6053.64},{"lat":6.64,"r":6053.65},{"lat":7.02,"r":6053.68},{"lat":7.41,"r":6053.71},{"lat":7.62,"r":6053.76},{"lat":7.79,"r":6053.82},{"lat":8.08,"r":6053.94},{"lat":8.32,"r":6053.97},{"lat":8.56,"r":6053.97},{"lat":8.87,"r":6053.93},{"lat":9.14,"r":6053.87},{"lat":9.32,"r":6053.78},{"lat":9.52,"r":6053.68},{"lat":9.72,"r":6053.58},{"lat":9.9,"r":6053.48},{"lat":10.09,"r":6053.36},{"lat":10.29,"r":6053.24},{"lat":10.49,"r":6053.15},{"lat":10.69,"r":6053.07},{"lat":10.89,"r":6053.0},{"lat":11.07,"r":6052.95},{"lat":11.29,"r":6052.9},{"lat":11.46,"r":6052.86},{"lat":11.64,"r":6052.87},{"lat":11.84,"r":6052.9},{"lat":12.14,"r":6052.96},{"lat":12.42,"r":6053.02},{"lat":12.69,"r":6053.12},{"lat":12.99,"r":6053.23},{"lat":13.19,"r":6053.28},{"lat":13.38,"r":6053.32},{"lat":13.69,"r":6053.24},{"lat":13.95,"r":6053.17},{"lat":14.19,"r":6053.2},{"lat":14.43,"r":6053.23},{"lat":14.72,"r":6053.19},{"lat":15.01,"r":6053.15},{"lat":15.41,"r":6053.11},{"lat":15.7,"r":6053.09},{"lat":15.91,"r":6053.13},{"lat":16.08,"r":6053.19},{"lat":16.27,"r":6053.32},{"lat":16.47,"r":6053.46},{"lat":16.66,"r":6053.61},{"lat":16.91,"r":6053.66},{"lat":17.16,"r":6054.01},{"lat":17.23,"r":6053.69},{"lat":17.51,"r":6053.68},{"lat":17.81,"r":6053.69},{"lat":18.01,"r":6053.75},{"lat":18.2,"r":6053.82},{"lat":18.41,"r":6053.88},{"lat":18.58,"r":6053.94},{"lat":19.16,"r":6053.65},{"lat":19.35,"r":6053.69},{"lat":19.56,"r":6053.78},{"lat":19.73,"r":6053.86},{"lat":20.12,"r":6053.94},{"lat":20.31,"r":6054.07},{"lat":20.53,"r":6054.16},{"lat":20.71,"r":6054.21},{"lat":20.83,"r":6054.21},{"lat":21.0,"r":6053.94},{"lat":21.19,"r":6053.79},{"lat":21.19,"r":6053.24},{"lat":21.29,"r":6052.61},{"lat":21.58,"r":6052.11},{"lat":21.73,"r":6052.11},{"lat":21.96,"r":6052.28},{"lat":22.06,"r":6052.49},{"lat":22.15,"r":6052.63},{"lat":22.25,"r":6052.96},{"lat":22.44,"r":6053.04},{"lat":22.63,"r":6053.19},{"lat":23.01,"r":6053.34},{"lat":23.33,"r":6053.3},{"lat":23.59,"r":6053.28},{"lat":23.83,"r":6053.28},{"lat":24.07,"r":6053.28},{"lat":24.45,"r":6053.32},{"lat":24.45,"r":6052.78},{"lat":24.55,"r":6052.65},{"lat":24.55,"r":6052.47},{"lat":24.93,"r":6052.37},{"lat":25.53,"r":6052.45},{"lat":25.72,"r":6052.32},{"lat":26.1,"r":6052.2},{"lat":26.39,"r":6051.99},{"lat":26.68,"r":6051.85},{"lat":26.95,"r":6051.87},{"lat":27.25,"r":6051.89},{"lat":27.55,"r":6051.82},{"lat":27.83,"r":6051.76},{"lat":28.02,"r":6051.51},{"lat":28.3,"r":6051.53},{"lat":28.6,"r":6051.55},{"lat":28.69,"r":6051.76},{"lat":28.79,"r":6052.0},{"lat":28.98,"r":6052.15},{"lat":29.07,"r":6052.09},{"lat":29.35,"r":6051.7},{"lat":29.45,"r":6051.59},{"lat":29.55,"r":6051.45},{"lat":29.85,"r":6051.4},{"lat":30.12,"r":6051.36},{"lat":30.53,"r":6051.24},{"lat":30.72,"r":6051.15},{"lat":30.91,"r":6051.08},{"lat":31.1,"r":6050.94},{"lat":31.37,"r":6050.96},{"lat":31.68,"r":6051.0},{"lat":31.87,"r":6051.45},{"lat":32.25,"r":6051.49},{"lat":32.45,"r":6051.2},{"lat":32.64,"r":6051.06},{"lat":32.92,"r":6050.98},{"lat":33.22,"r":6050.92},{"lat":33.45,"r":6050.88},{"lat":33.67,"r":6050.95},{"lat":33.89,"r":6051.0},{"lat":34.03,"r":6051.05},{"lat":34.22,"r":6051.14},{"lat":34.41,"r":6051.22},{"lat":34.7,"r":6051.36},{"lat":34.8,"r":6051.55},{"lat":35.28,"r":6051.41},{"lat":35.59,"r":6051.31},{"lat":35.88,"r":6051.51},{"lat":36.17,"r":6051.25},{"lat":36.39,"r":6051.14},{"lat":36.55,"r":6051.05},{"lat":36.94,"r":6051.0},{"lat":37.32,"r":6051.0},{"lat":37.51,"r":6051.08},{"lat":37.61,"r":6051.31},{"lat":37.7,"r":6051.51},{"lat":38.09,"r":6051.22},{"lat":38.47,"r":6051.19},{"lat":38.84,"r":6051.2},{"lat":39.24,"r":6051.22},{"lat":39.59,"r":6051.24},{"lat":39.91,"r":6051.26},{"lat":40.11,"r":6051.66},{"lat":40.3,"r":6051.76},{"lat":40.61,"r":6051.58},{"lat":40.8,"r":6051.44},{"lat":41.11,"r":6051.45},{"lat":41.38,"r":6051.47},{"lat":41.66,"r":6051.5},{"lat":41.95,"r":6051.52},{"lat":42.26,"r":6051.5},{"lat":42.53,"r":6051.47},{"lat":42.81,"r":6051.43},{"lat":43.11,"r":6051.39},{"lat":43.41,"r":6051.42},{"lat":43.68,"r":6051.44},{"lat":43.97,"r":6051.27},{"lat":44.26,"r":6051.36},{"lat":44.56,"r":6051.36},{"lat":44.84,"r":6051.36},{"lat":45.11,"r":6051.29},{"lat":45.41,"r":6051.22},{"lat":45.73,"r":6051.25},{"lat":46.01,"r":6051.27},{"lat":46.33,"r":6051.26},{"lat":46.59,"r":6051.25},{"lat":46.88,"r":6051.2},{"lat":47.16,"r":6051.16},{"lat":47.43,"r":6051.1},{"lat":47.74,"r":6051.05},{"lat":48.03,"r":6051.02},{"lat":48.32,"r":6051.0},{"lat":48.63,"r":6050.95},{"lat":48.9,"r":6050.91},{"lat":49.18,"r":6050.87},{"lat":49.47,"r":6050.83},{"lat":49.68,"r":6050.79},{"lat":49.86,"r":6050.75},{"lat":50.05,"r":6050.7},{"lat":50.24,"r":6050.64},{"lat":50.43,"r":6050.7},{"lat":50.64,"r":6050.75},{"lat":51.04,"r":6050.73},{"lat":51.41,"r":6050.7},{"lat":51.69,"r":6050.69},{"lat":51.98,"r":6050.68},{"lat":52.18,"r":6050.5},{"lat":52.39,"r":6050.45},{"lat":52.56,"r":6050.41},{"lat":52.74,"r":6050.45},{"lat":52.95,"r":6050.5},{"lat":53.24,"r":6050.55},{"lat":53.52,"r":6050.59},{"lat":53.84,"r":6050.62},{"lat":54.1,"r":6050.64},{"lat":54.39,"r":6050.61},{"lat":54.68,"r":6050.57}
    ]
  },
  "layer": [
    {
      "data": {"name": "black"},
      "mark": {"type": "circle", "color": "black", "size": 100, "opacity": 1},
      "encoding": {
        "x": {"field": "lat", "type": "quantitative",
          "scale": {"domain": [-90, 90], "nice": false, "zero": false},
          "axis": {"orient": "bottom", "values": [-90, -60, -30, 0, 30, 60, 90], "ticks": false, "labelPadding": 21,
            "labelExpr": "'' + datum.value", "title": "Latitude, deg", "titleBaseline": "alphabetic",
            "titleY": 160, "titleX": 1555, "titleAlign": "center"}},
        "y": {"field": "r", "type": "quantitative",
          "scale": {"domain": [6045, 6065], "nice": false, "zero": false},
          "axis": {"orient": "left", "values": [6045, 6050, 6055, 6060, 6065], "ticks": false, "labelPadding": 47,
            "labelExpr": "'' + datum.value", "title": "Radius, km", "titleAngle": 270, "titleBaseline": "alphabetic",
            "titleX": -285, "titleY": 1198, "titleAlign": "center"}}
      }
    },
    {
      "data": {"name": "red"},
      "mark": {"type": "circle", "color": "#ff0000", "size": 115, "opacity": 1},
      "encoding": {
        "x": {"field": "lat", "type": "quantitative",
          "axis": {"orient": "bottom", "values": [-90,-85,-80,-75,-70,-65,-60,-55,-50,-45,-40,-35,-30,-25,-20,-15,-10,-5,0,5,10,15,20,25,30,35,40,45,50,55,60,65,70,75,80,85,90],
            "tickSize": -58, "labels": false, "title": null}},
        "y": {"field": "r", "type": "quantitative",
          "axis": {"orient": "left", "values": [6045,6046,6047,6048,6049,6050,6051,6052,6053,6054,6055,6056,6057,6058,6059,6060,6061,6062,6063,6064,6065],
            "tickSize": -57, "labels": false, "title": null}}
      }
    },
    {
      "data": {"values": []},
      "mark": {"type": "circle", "opacity": 0},
      "encoding": {
        "x": {"field": "lat", "type": "quantitative",
          "axis": {"orient": "bottom", "values": [-90, -60, -30, 0, 30, 60, 90], "tickSize": -112, "labels": false, "title": null}},
        "y": {"field": "r", "type": "quantitative",
          "axis": {"orient": "left", "values": [6045, 6050, 6055, 6060, 6065], "tickSize": -113, "labels": false, "title": null}}
      }
    },
    {
      "data": {"values": []},
      "mark": {"type": "circle", "opacity": 0},
      "encoding": {
        "x": {"field": "lat", "type": "quantitative",
          "axis": {"orient": "top", "values": [-90,-85,-80,-75,-70,-65,-60,-55,-50,-45,-40,-35,-30,-25,-20,-15,-10,-5,0,5,10,15,20,25,30,35,40,45,50,55,60,65,70,75,80,85,90],
            "tickSize": -58, "labels": false, "title": null}},
        "y": {"field": "r", "type": "quantitative",
          "axis": {"orient": "right", "values": [6045,6046,6047,6048,6049,6050,6051,6052,6053,6054,6055,6056,6057,6058,6059,6060,6061,6062,6063,6064,6065],
            "tickSize": -57, "labels": false, "title": null}}
      }
    },
    {
      "data": {"values": []},
      "mark": {"type": "circle", "opacity": 0},
      "encoding": {
        "x": {"field": "lat", "type": "quantitative",
          "axis": {"orient": "top", "values": [-90, -60, -30, 0, 30, 60, 90], "tickSize": -112, "labels": false, "title": null}},
        "y": {"field": "r", "type": "quantitative",
          "axis": {"orient": "right", "values": [6045, 6050, 6055, 6060, 6065], "tickSize": -113, "labels": false, "title": null}}
      }
    }
  ],
  "resolve": {"axis": {"x": "independent", "y": "independent"}}
}
